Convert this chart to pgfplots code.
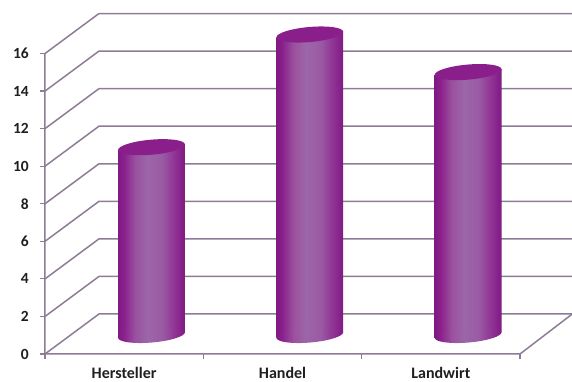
\documentclass[border=0pt]{standalone}
\usepackage{pgfplots}
\pgfplotsset{compat=1.18}
\usepackage{fontspec}
\setmainfont{Carlito}
\definecolor{gridc}{HTML}{8E7C96}
\definecolor{capc}{HTML}{8A1F8C}
\definecolor{cylA}{HTML}{9A529F}
\definecolor{cylB}{HTML}{9C66A9}
\definecolor{cylC}{HTML}{9A5AA3}
\definecolor{cylD}{HTML}{8F2F93}
\definecolor{cylE}{HTML}{7F1A83}
% Horizontal shading that gives the column its rounded look
\pgfdeclarehorizontalshading{cyl}{100bp}{
  color(0bp)=(cylE);
  color(25bp)=(cylE);
  color(29bp)=(capc);
  color(38bp)=(cylA);
  color(47bp)=(cylB);
  color(58bp)=(cylC);
  color(68bp)=(cylD);
  color(75bp)=(cylE);
  color(100bp)=(cylE)}
% Column ends: tilted ellipses
\pgfdeclareplotmark{topcap}{%
  \pgfsetfillcolor{capc}%
  \pgfpathellipse{\pgfpointorigin}{\pgfqpoint{33.4pt}{2.9pt}}{\pgfqpoint{-0.65pt}{7.5pt}}%
  \pgfusepathqfill}
\pgfdeclareplotmark{basecap}{%
  \pgfpathellipse{\pgfpointorigin}{\pgfqpoint{33.4pt}{2.9pt}}{\pgfqpoint{-0.65pt}{7.5pt}}%
  \pgfshadepath{cyl}{0}%
  \pgfusepath{discard}}
\begin{document}
\begin{tikzpicture}
\path[use as bounding box] (0,0) rectangle (572pt,382pt);
% Walls, floor and value axis
\begin{axis}[
  at={(0,0)},anchor=south west,
  scale only axis,width=572pt,height=382pt,
  xmin=-0.2842,xmax=3.3284,ymin=-1.491,ymax=18.85,
  axis lines=center,
  axis line style={draw=none,-},
  hide obscured x ticks=false,hide obscured y ticks=false,
  tick align=outside,
  ytick={0,2,...,16},
  xtick={0.5,1.5,2.5},
  xticklabels={Hersteller,Handel,Landwirt},
  minor xtick={0,1,2,3},
  major tick length=0pt,
  minor tick length=5pt,
  tick style={gridc,line width=1.2pt},
  xticklabel style={font=\fontsize{16}{16}\selectfont\bfseries,color=black!88,yshift=-19pt,inner sep=0pt,anchor=center},
  yticklabel style={font=\fontsize{15.5}{15.5}\selectfont\bfseries,color=black!88,xshift=-16pt,inner sep=0pt},
  /pgf/number format/assume math mode=true,
  unbounded coords=jump,
]
\addplot[gridc,line width=1.5pt,mark=none] coordinates {
  (0,0)(0.341,2.13)(3.33,2.13) (nan,nan)
  (0,2)(0.341,4.13)(3.33,4.13) (nan,nan)
  (0,4)(0.341,6.13)(3.33,6.13) (nan,nan)
  (0,6)(0.341,8.13)(3.33,8.13) (nan,nan)
  (0,8)(0.341,10.13)(3.33,10.13) (nan,nan)
  (0,10)(0.341,12.13)(3.33,12.13) (nan,nan)
  (0,12)(0.341,14.13)(3.33,14.13) (nan,nan)
  (0,14)(0.341,16.13)(3.33,16.13) (nan,nan)
  (0,16)(0.341,18.13)(3.33,18.13)
};
\addplot[gridc,line width=1.5pt,mark=none] coordinates {(0,16)(0,0)(3,0)(3.33,2.13)};
% Tick stubs on the value axis
\addplot[gridc,line width=1.2pt,mark=none] coordinates {
  (0,0)(-0.032,0) (nan,nan) (0,2)(-0.032,2) (nan,nan) (0,4)(-0.032,4) (nan,nan)
  (0,6)(-0.032,6) (nan,nan) (0,8)(-0.032,8) (nan,nan) (0,10)(-0.032,10) (nan,nan)
  (0,12)(-0.032,12) (nan,nan) (0,14)(-0.032,14) (nan,nan) (0,16)(-0.032,16)
};
\end{axis}
% Columns, set back from the front edge of the floor; their sides follow the
% tilt of the end ellipses
\begin{axis}[
  at={(0,0)},anchor=south west,
  scale only axis,width=572pt,height=382pt,
  xmin=-0.957,xmax=2.656,ymin=-2.503,ymax=17.838,
  hide axis,clip=false,
  cycle list={{black}},
]
\addplot[only marks,mark=basecap] coordinates {(0,0)(1,0)(2,0)};
\addplot[draw=none,shade,shading=cyl,mark=none] coordinates
  {(-0.211,-0.154)(0.211,0.154)(0.211,10.154)(-0.211,9.846)} -- cycle;
\addplot[draw=none,shade,shading=cyl,mark=none] coordinates
  {(0.789,-0.154)(1.211,0.154)(1.211,16.154)(0.789,15.846)} -- cycle;
\addplot[draw=none,shade,shading=cyl,mark=none] coordinates
  {(1.789,-0.154)(2.211,0.154)(2.211,14.154)(1.789,13.846)} -- cycle;
\addplot[only marks,mark=topcap] coordinates {(0,10)(1,16)(2,14)};
\end{axis}
\end{tikzpicture}
\end{document}
